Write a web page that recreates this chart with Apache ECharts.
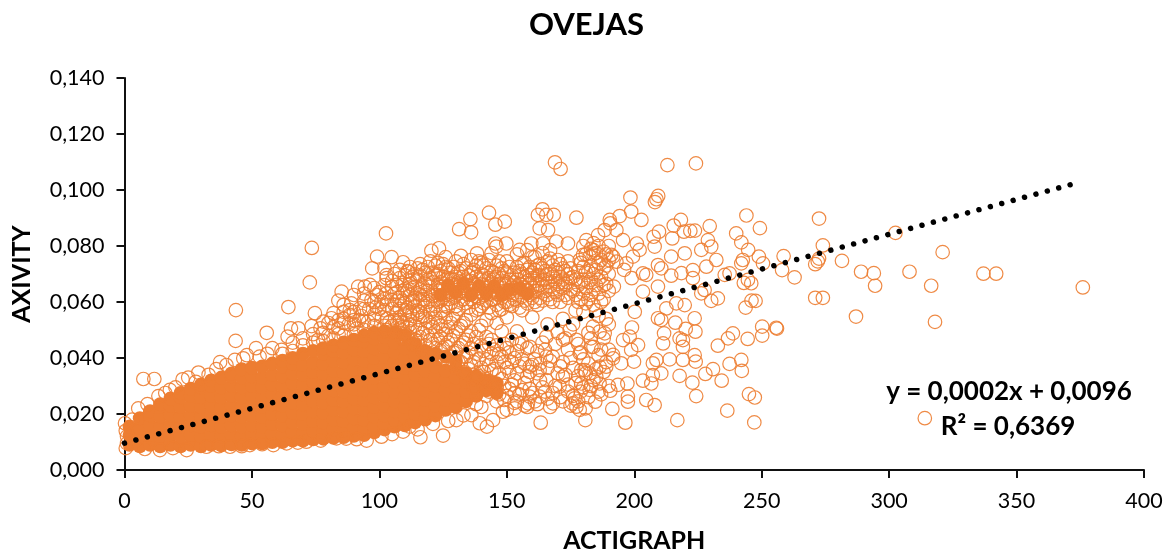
<!DOCTYPE html>
<html><head><meta charset="utf-8">
<style>html,body{margin:0;padding:0;background:#fff}#c{width:1174px;height:555px}</style>
<script src="https://cdn.jsdelivr.net/npm/echarts@6/dist/echarts.min.js"></script>
</head><body><div id="c"></div>
<script>
const chartTitle = 'OVEJAS';
const xName = 'ACTIGRAPH';
const yName = 'AXIVITY';
const equation = 'y = 0,0002x + 0,0096';
const rSquared = 'R² = 0,6369';
const trendPoints = [[0, 0.0096], [372, 0.1021]];

// Solid body of the cloud, where the markers overlap completely: x column, then the y values seen there
const denseColumns = [
[2,[.0090,.0125,.0155]],
[6,[.0085,.0115,.0150,.0185]],
[10,[.0090,.0125,.0160,.0195,.0210]],
[14,[.0085,.0120,.0155,.0190,.0225,.0235]],
[18,[.0090,.0125,.0160,.0195,.0230,.0255]],
[22,[.0085,.0120,.0155,.0190,.0225,.0260,.0275]],
[26,[.0090,.0125,.0160,.0195,.0230,.0265,.0290]],
[30,[.0085,.0120,.0155,.0190,.0225,.0260,.0295,.0305]],
[34,[.0090,.0125,.0160,.0195,.0230,.0265,.0300,.0320]],
[38,[.0088,.0120,.0155,.0190,.0225,.0260,.0295,.0330]],
[42,[.0092,.0125,.0160,.0195,.0230,.0265,.0300,.0335,.0345]],
[46,[.0090,.0120,.0155,.0190,.0225,.0260,.0295,.0330,.0360]],
[50,[.0095,.0125,.0160,.0195,.0230,.0265,.0300,.0335,.0365]],
[54,[.0095,.0120,.0155,.0190,.0225,.0260,.0295,.0330,.0370]],
[58,[.0100,.0130,.0165,.0200,.0235,.0270,.0305,.0340,.0380]],
[62,[.0100,.0125,.0160,.0195,.0230,.0265,.0300,.0335,.0370,.0390]],
[66,[.0105,.0135,.0170,.0205,.0240,.0275,.0310,.0345,.0380,.0400]],
[70,[.0105,.0130,.0165,.0200,.0235,.0270,.0305,.0340,.0375,.0415]],
[74,[.0110,.0140,.0175,.0210,.0245,.0280,.0315,.0350,.0385,.0425]],
[78,[.0112,.0135,.0170,.0205,.0240,.0275,.0310,.0345,.0380,.0415,.0435]],
[82,[.0115,.0145,.0180,.0215,.0250,.0285,.0320,.0355,.0390,.0425,.0445]],
[86,[.0118,.0140,.0175,.0210,.0245,.0280,.0315,.0350,.0385,.0420,.0455]],
[90,[.0122,.0150,.0185,.0220,.0255,.0290,.0325,.0360,.0395,.0430,.0465]],
[94,[.0125,.0145,.0180,.0215,.0250,.0285,.0320,.0355,.0390,.0425,.0460,.0480]],
[98,[.0135,.0155,.0190,.0225,.0260,.0295,.0330,.0365,.0400,.0435,.0470,.0490]],
[102,[.0145,.0165,.0195,.0230,.0265,.0300,.0335,.0370,.0405,.0440,.0475,.0495]],
[106,[.0155,.0180,.0210,.0245,.0280,.0315,.0350,.0385,.0420,.0455,.0490]],
[110,[.0160,.0190,.0225,.0260,.0295,.0330,.0365,.0400,.0435,.0480]],
[114,[.0170,.0200,.0235,.0270,.0305,.0340,.0375,.0410,.0450]],
[118,[.0180,.0215,.0250,.0285,.0320,.0355,.0390,.0425]],
[122,[.0195,.0230,.0265,.0300,.0335,.0370,.0415]],
[126,[.0215,.0250,.0285,.0320,.0355,.0405]],
[130,[.0225,.0260,.0295,.0330,.0365,.0390]],
[134,[.0245,.0280,.0315,.0345]],
[138,[.0265,.0300,.0335]],[142,[.0285,.0320]],[146,[.0275,.0310]],
[124,[.0625]],[127,[.0660]],[130,[.0635]],[133,[.0665]],[136,[.0625]],[139,[.0655]],[142,[.0630]],[145,[.0655]],[148,[.0625]],[151,[.0645]],[155,[.0650]],[158,[.0630]]
];

// Busy but not solid area: x column, then the y values seen there
const busyColumns = [
[62,[.0415]],[66,[.0425]],[70,[.0445]],[74,[.0455,.0485]],[78,[.0460,.0530]],[80,[.0480]],[82,[.0470,.0510,.0560]],[84,[.0535]],
[86,[.0480,.0540,.0590]],[88,[.0520]],[90,[.0485,.0520,.0565,.0625]],[92,[.0535]],[94,[.0500,.0530,.0575,.0630]],[96,[.0575]],
[98,[.0515,.0540,.0600,.0650]],[100,[.0575,.0635]],[102,[.0515,.0570,.0610,.0660,.0720]],[103,[.0540,.0590]],[105,[.0515,.0575,.0675]],[106,[.0495,.0535,.0590,.0630,.0700]],[107,[.0525,.0605]],
[108,[.0505,.0535,.0575,.0615,.0685,.0715]],
[109,[.0470,.0525,.0605,.0660]],
[110,[.0485,.0555,.0645,.0595,.0695]],
[111,[.0480,.0510,.0580,.0640,.0710]],
[112,[.0495,.0535,.0565,.0625,.0675,.0725]],
[113,[.0450,.0550,.0600,.0650,.0690]],
[114,[.0465,.0515,.0585,.0615,.0655,.0700]],
[115,[.0460,.0500,.0570,.0630,.0680,.0720]],
[116,[.0475,.0535,.0565,.0605,.0645,.0695,.0735]],
[117,[.0425,.0490,.0550,.0610,.0655,.0715]],
[118,[.0445,.0505,.0545,.0585,.0625,.0665,.0705]],
[119,[.0415,.0480,.0530,.0600,.0640,.0680,.0725]],
[120,[.0465,.0525,.0565,.0605,.0655,.0685,.0745]],
[121,[.0405,.0450,.0510,.0575,.0620,.0670,.0705]],
[122,[.0435,.0495,.0545,.0585,.0625,.0695,.0730]],
[123,[.0400,.0465,.0525,.0600,.0640,.0660,.0700,.0740]],
[124,[.0425,.0475,.0515,.0565,.0605,.0645,.0670,.0710]],
[125,[.0395,.0435,.0500,.0570,.0615,.0655,.0690,.0735]],
[126,[.0445,.0485,.0545,.0585,.0625,.0680,.0725,.0760]],
[127,[.0385,.0455,.0510,.0580,.0610,.0650,.0685,.0720]],
[128,[.0405,.0465,.0525,.0595,.0635,.0665,.0705]],
[129,[.0375,.0420,.0480,.0540,.0615,.0650,.0680,.0725]],
[130,[.0425,.0495,.0555,.0585,.0625,.0660,.0690,.0745]],
[131,[.0385,.0435,.0505,.0575,.0630,.0655,.0675,.0705]],
[132,[.0385,.0445,.0515,.0605,.0640,.0670,.0710,.0765]],
[133,[.0350,.0405,.0455,.0525,.0610,.0650,.0690,.0735]],
[134,[.0405,.0465,.0535,.0595,.0630,.0680,.0720]],
[135,[.0360,.0420,.0480,.0580,.0625,.0660,.0695]],
[136,[.0375,.0435,.0495,.0555,.0610,.0645,.0675,.0705,.0750]],
[137,[.0325,.0385,.0450,.0600,.0640,.0665,.0715]],
[138,[.0345,.0415,.0475,.0570,.0620,.0660,.0690,.0730]],
[139,[.0335,.0395,.0500,.0575,.0615,.0650,.0680,.0745]],
[140,[.0365,.0445,.0515,.0585,.0635,.0665,.0700,.0740]],
[141,[.0300,.0350,.0425,.0595,.0625,.0660,.0695,.0730]],
[142,[.0325,.0395,.0475,.0535,.0605,.0650,.0680,.0720]],
[143,[.0280,.0375,.0450,.0580,.0630,.0655,.0685,.0750]],
[144,[.0355,.0415,.0465,.0560,.0610,.0640,.0670,.0710,.0775]],
[145,[.0310,.0360,.0430,.0610,.0645,.0680,.0705]],
[146,[.0295,.0385,.0445,.0525,.0590,.0630,.0660,.0690,.0730]],
[147,[.0270,.0345,.0415,.0570,.0625,.0665,.0700,.0745]],
[148,[.0325,.0405,.0495,.0575,.0615,.0650,.0685,.0720]],
[149,[.0250,.0300,.0385,.0450,.0600,.0630,.0665,.0710]],
[150,[.0265,.0365,.0435,.0545,.0600,.0640,.0670,.0705,.0745]],
[151,[.0290,.0350,.0420,.0590,.0635,.0680,.0725]],
[152,[.0305,.0385,.0465,.0585,.0625,.0655,.0695]],
[153,[.0240,.0320,.0400,.0610,.0650,.0670,.0705]],
[154,[.0245,.0345,.0425,.0495,.0605,.0645,.0680,.0725,.0770]],
[155,[.0270,.0370,.0450,.0580,.0635,.0665,.0710]],
[156,[.0285,.0395,.0455,.0570,.0620,.0660,.0700,.0735]],
[157,[.0230,.0310,.0380,.0605,.0650,.0690,.0740]],
[158,[.0225,.0335,.0435,.0595,.0640,.0675,.0715]],
[159,[.0290,.0350,.0440,.0625,.0665,.0695,.0725]],
[160,[.0275,.0375,.0545,.0615,.0650,.0685,.0705,.0760]],
[161,[.0245,.0395,.0600,.0640,.0675,.0715,.0760]],
[162,[.0235,.0345,.0425,.0590,.0640,.0665,.0695,.0730]],
[163,[.0320,.0380,.0615,.0660,.0695,.0735]],
[164,[.0295,.0455,.0605,.0655,.0680,.0720,.0775]],
[165,[.0280,.0430,.0640,.0680,.0710]],
[166,[.0255,.0365,.0520,.0625,.0670,.0700,.0745]],
[167,[.0225,.0390,.0610,.0655,.0700,.0755]],
[168,[.0275,.0405,.0600,.0645,.0690,.0730]],
[169,[.0300,.0450,.0635,.0675,.0715]],
[170,[.0345,.0490,.0625,.0665,.0705,.0750]],
[171,[.0260,.0370,.0600,.0655,.0690,.0735]],
[172,[.0245,.0385,.0540,.0650,.0680,.0720]],
[173,[.0340,.0470,.0625,.0665,.0710]],
[174,[.0305,.0430,.0615,.0670,.0700,.0745]],
[175,[.0230,.0400,.0645,.0685,.0720]],
[176,[.0265,.0365,.0520,.0640,.0690]],
[177,[.0310,.0570,.0625,.0680]],
[178,[.0245,.0335,.0450,.0600,.0660,.0710]],
[179,[.0280,.0420,.0610,.0670,.0740]],
[180,[.0295,.0395,.0565,.0630,.0680,.0725,.0800]],
[181,[.0345,.0595,.0650,.0705,.0770]],
[182,[.0260,.0380,.0490,.0610,.0670,.0710]],
[183,[.0300,.0470,.0625,.0680,.0730,.0790]],
[184,[.0320,.0440,.0590,.0645,.0700,.0770,.0810]],
[185,[.0360,.0570,.0660,.0715,.0775]],
[186,[.0280,.0410,.0550,.0630,.0680,.0740,.0800]],
[187,[.0270,.0430,.0600,.0690,.0750]],
[188,[.0350,.0470,.0610,.0660,.0720,.0780]],
[189,[.0385,.0540,.0665,.0730,.0770]],
[190,[.0300,.0430,.0520,.0640,.0700,.0750,.0800]]
];

// Markers along the edge of the solid body
const edgeUpper = [[7.4,.0325],[11.7,.0325],[43.7,.0571],[43.6,.0461],[73.5,.0793],[72.7,.067],[64.3,.0582],[74.7,.056],[55.8,.049],[37.5,.0385],[29,.0348],[22.8,.0324],[17.8,.0286],[13.3,.0264],[5.4,.022],[.2,.0167],[51.6,.0435],[58,.0435],[43.3,.0393],[46.6,.0399],[61.6,.0429],[65.3,.0506],[68.2,.0506],[64,.0476],[73.4,.0514],[76.9,.0506],[83.9,.0506],[81.2,.0542],[83.9,.0605],[85.2,.0637],[91.7,.0655],[94.3,.0655],[96.3,.0661],[97.2,.072],[99.1,.0762],[104.8,.076],[102.6,.0845],[109.3,.0742],[111.3,.0708],[102.8,.0696],[102.8,.0685],[96.9,.0607],[88.4,.0571],[92.4,.0577],[88.4,.0554],[95.6,.053],[102.8,.0631],[106.7,.0661],[109.3,.0631],[102.8,.05],[106.7,.056],[98.9,.0583],[110.6,.0571],[109.3,.0512],[104.8,.0607],[100.8,.0601],
[3,.018],[9,.0235],[16,.0275],[20,.0295],[25,.033],[28,.0315],[33,.034],[36,.036],[40,.0375],[48,.041],[53,.0405],[56,.0415],[66,.0455],[70,.047],[78,.049],[80,.0525],[86,.0525],[90,.0535],[93,.055],[98,.0555],[84,.0485],[76,.0465],[91,.0505],[101,.0545],[104,.053],[108,.0545],[112,.052],[115,.0555],[113,.0605],[116,.0625],[107,.0635],[112,.0665],[105,.0655],[99,.0625],[94,.0605],[89,.0595],[86,.0565]];
const edgeLower = [[109.3,.0137],[100.8,.0119],[95,.0105],[91.1,.011],[83.2,.0113],[71.4,.0101],[63.6,.0095],[58.4,.0089],[49.2,.0089],[41.4,.0083],[32.2,.0083],[24.4,.0071],[13.9,.0071],[.5,.0078],[1,.0095],[1,.012],[.5,.014],[8,.0075],[19,.0078],[37,.0085],[46,.0085],[54,.0092],[68,.0098],[77,.0105],[87,.0112],[105,.0128],[115,.0145],[121,.0165],[116.1,.0117],[111.9,.0155],[125,.0123],[130.2,.0178],[136.1,.0196],[127,.0175],[133,.0195]];

// Loose markers to the right of the solid body, upper band
const upperBand = [[120.4,.0783],[123.4,.0792],[131.3,.086],[135.7,.0896],[136,.0849],[138.3,.0774],[143,.0919],[145.5,.0876],[145.5,.0809],[145.9,.0798],[149.2,.0887],[149.8,.0809],[155,.0786],[158,.0785],[159.6,.0809],[162.2,.0911],[162.9,.0863],[164,.0931],[164.2,.0809],[165.5,.0911],[166.2,.0857],[167,.0785],[168.4,.0911],[169.4,.0816],[174,.0809],[177.3,.0901],[178.6,.075],[179.9,.0768],[181.2,.0821],[182.5,.0762],[184,.0785],[185.8,.0839],[188.4,.0857],[190.4,.0893],[190.6,.0881],[191,.0768],[191.7,.0762],[192,.0655],[193,.0857],[193,.0744],[194.3,.0907],[195.6,.0821],[196,.0715],[196.9,.0738],[198.5,.0973],[198.8,.0923],[199.5,.0762],[199,.0685],[201,.0809],[202.1,.0786],[202.8,.0893],[203.4,.0702],[203.4,.0637],[204.7,.0697],[207.6,.0833],[208,.0798],[208.1,.0957],[208.7,.0967],[209.4,.0979],[209.3,.0732],[209.3,.0655],[209.7,.0851],[210.6,.072],[214.5,.0762],[214.5,.0694],[214.9,.0827],[215.5,.0873],[218.3,.0893],[218.5,.0703],[219.5,.0851],[219.8,.0774],[222,.0854],[223,.0714],[223,.0685],[223.8,.0855],[226.3,.0786],[226.3,.0631],[227.6,.0643],[228.3,.0726],[228.9,.0821],[229.6,.0871],[230.2,.0798],[230.2,.0604],[232.2,.075],[232.8,.0613],[235.5,.0697],[237.4,.0702],[240,.0845],[242,.0813],[242,.0738],[242.6,.075],[243.7,.058],[244,.0909],[244.6,.0679],[244.7,.0786],[245.9,.0667],[247.6,.0604],[248.9,.0762],[249.3,.0864],[250.5,.0738],[168.9,.1099],[171.1,.1075],[213,.1089],[224.2,.1095]];

// Loose markers to the right of the solid body, below and around the trend
const lowerBand = [[153.1,.0274],[153.1,.022],[158.3,.0238],[159,.0369],[159,.0262],[162.9,.0357],[162.9,.0262],[163.3,.0169],[165.5,.0476],[165.5,.0405],[165.5,.0321],[168.1,.0238],[170.7,.0298],[172,.0465],[172,.0333],[174.7,.05],[174,.028],[175.7,.0238],[176.6,.0256],[177.3,.0465],[177.3,.0226],[178.6,.0417],[178.6,.0215],[179.2,.0357],[179.2,.0309],[180.5,.0357],[180.8,.0178],[180.9,.022],[182.5,.0345],[182.5,.0286],[183.2,.044],[183.8,.0512],[184.7,.0244],[185.1,.0333],[186.4,.0494],[186.4,.0369],[186.4,.0309],[188.4,.0488],[189,.0369],[190.6,.0283],[191.4,.0218],[191.7,.0411],[191.7,.0399],[193.6,.0304],[194.9,.0381],[195.6,.0464],[196.5,.0169],[197.3,.0309],[197.5,.0262],[197.5,.0244],[198.2,.0476],[198.8,.0429],[199.1,.0509],[199.9,.0387],[200.2,.0565],[201.5,.0446],[203.4,.0319],[204.7,.025],[206.7,.0309],[207.3,.0381],[207.3,.0339],[208,.0232],[208.7,.0393],[209.3,.0542],[210.6,.0536],[210.6,.0345],[211.3,.0452],[211.7,.0488],[212.6,.0577],[213.9,.0395],[216.1,.0526],[216.5,.0595],[216.9,.0178],[217.8,.047],[217.8,.0336],[219.1,.0464],[219.1,.044],[219.1,.0393],[219.8,.0589],[220.2,.0504],[222.8,.0312],[223.7,.0542],[223.7,.041],[224,.0494],[224.1,.0387],[224.3,.0264],[227.9,.0343],[230.9,.036],[232.8,.0444],[234.3,.0319],[236.5,.0212],[236.8,.047],[237.4,.0379],[238.7,.0488],[242,.0393],[242.2,.0354],[244.5,.0468],[245,.0271],[247.1,.017],[247.3,.0259],[250.2,.0512],[250.2,.048],[255.7,.0508],[142.2,.0155],[144.6,.0178],[139.4,.0167],[148.5,.0208],[138,.0235],[142,.0265],[146,.0245],[150,.0215],[137,.0295],[140,.0225]];

// Isolated markers at the far right
const farRight = [[258.6,.0764],[258,.0714],[262.9,.0688],[271,.0735],[272,.0745],[272.5,.0755],[271,.0615],[274,.0615],[272.5,.0898],[274,.0802],[281.5,.0747],[289,.0708],[294,.0703],[294.5,.0658],[287,.0548],[302.5,.0847],[308,.0708],[316.5,.0658],[318,.0529],[321,.0778],[337,.0701],[342,.0701],[376,.0652],[314,.0185],[256,.0505],[246,.0605],[243,.0668]];

const denseSeriesData = [];
denseColumns.forEach(col => col[1].forEach(v => denseSeriesData.push([col[0], v])));
const busyData = [];
busyColumns.forEach(col => col[1].forEach(v => busyData.push([col[0], v])));
const hollowData = edgeUpper.concat(edgeLower, busyData, upperBand, lowerBand, farRight);

const ORANGE = '#ED7D31';
const FONT = 'Lato, "Open Sans", sans-serif';
const chart = echarts.init(document.getElementById('c'), null, {renderer: 'canvas'});
chart.setOption({
  animation: false,
  backgroundColor: '#fff',
  title: {text: chartTitle, left: 581.5, top: 4, textAlign: 'center',
    textStyle: {fontFamily: FONT, fontSize: 31, fontWeight: 'bold', color: '#000'}},
  grid: {left: 124.5, right: 30, top: 78, bottom: 85, outerBoundsMode: 'none'},
  xAxis: {type: 'value', min: 0, max: 400, interval: 50,
    name: xName, nameLocation: 'middle', nameGap: 58,
    nameTextStyle: {fontFamily: FONT, fontSize: 25, fontWeight: 'bold', color: '#000'},
    axisLine: {onZero: false, lineStyle: {color: '#111', width: 2}},
    axisTick: {show: true, length: 8, lineStyle: {color: '#111', width: 2}},
    axisLabel: {fontFamily: FONT, fontSize: 21.5, color: '#000', margin: 20},
    splitLine: {show: false}},
  yAxis: {type: 'value', min: 0, max: 0.14, interval: 0.02,
    name: yName, nameLocation: 'middle', nameGap: 90,
    nameTextStyle: {fontFamily: FONT, fontSize: 25, fontWeight: 'bold', color: '#000'},
    axisLine: {show: true, lineStyle: {color: '#111', width: 2}},
    axisTick: {show: true, length: 8, lineStyle: {color: '#111', width: 2}},
    axisLabel: {fontFamily: FONT, fontSize: 21.5, color: '#000', margin: 20,
      formatter: v => v.toFixed(3).replace('.', ',')},
    splitLine: {show: false}},
  series: [
    {type: 'scatter', name: 'dense', data: denseSeriesData, symbol: 'circle', symbolSize: 14, clip: false,
      itemStyle: {color: ORANGE, opacity: 1}, silent: true, z: 2},
    {type: 'scatter', name: 'OVEJAS', data: hollowData, symbol: 'circle', symbolSize: 13.5, clip: false,
      itemStyle: {color: 'transparent', borderColor: ORANGE, borderWidth: 1.2, opacity: 0.9}, silent: true, z: 3},
    {type: 'line', name: 'trend', data: trendPoints, symbol: 'none', clip: false, silent: true, z: 5,
      lineStyle: {color: '#000', width: 5.5, cap: 'round', type: [0.01, 11.8]}}
  ],
  graphic: [
    {type: 'text', z: 10, position: [1009, 392], style: {text: equation, x: 0, y: 0, align: 'center', verticalAlign: 'middle',
      font: 'bold 26px ' + FONT, fill: '#000'}},
    {type: 'text', z: 10, position: [1008, 427], style: {text: rSquared, x: 0, y: 0, align: 'center', verticalAlign: 'middle',
      font: 'bold 26px ' + FONT, fill: '#000'}}
  ]
});
</script></body></html>
